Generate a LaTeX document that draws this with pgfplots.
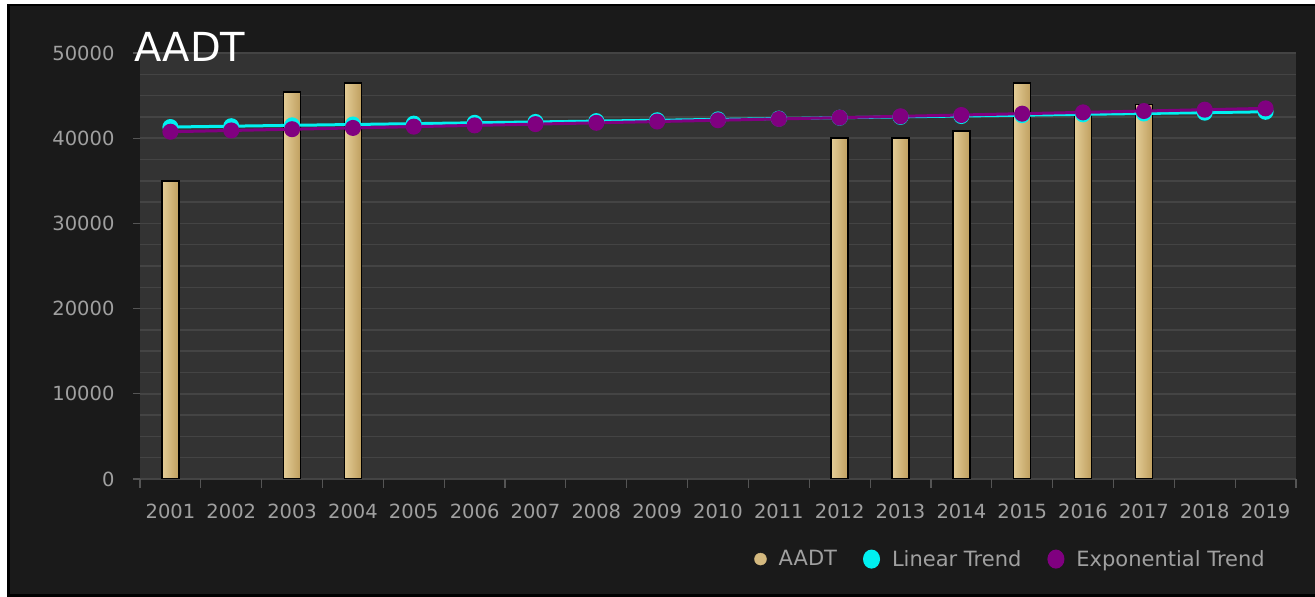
\documentclass[border=0pt]{standalone}
\usepackage{fontspec}
\setmainfont{DejaVu Sans}
\usepackage{pgfplots}
\pgfplotsset{compat=1.18}
\definecolor{outerbg}{HTML}{1A1A1A}
\definecolor{plotbg}{HTML}{333333}
\definecolor{gridc}{HTML}{444444}
\definecolor{tickgray}{HTML}{A0A0A0}
\definecolor{tickline}{HTML}{555555}
\definecolor{barlight}{HTML}{E3CC96}
\definecolor{bardark}{HTML}{BF9F5F}
\definecolor{bartan}{HTML}{D4B97F}
\definecolor{lincyan}{HTML}{00F0F0}
\definecolor{exppurple}{HTML}{800080}

\pgfplotstableread{
x y
0 41310
1 41409
2 41509
3 41608
4 41708
5 41807
6 41907
7 42006
8 42106
9 42205
10 42304
11 42404
12 42503
13 42603
14 42702
15 42802
16 42901
17 43000
18 43100
}\lintrend

\pgfplotstableread{
x y
0 40760
1 40908
2 41056
3 41205
4 41354
5 41504
6 41654
7 41805
8 41956
9 42108
10 42261
11 42414
12 42568
13 42722
14 42877
15 43032
16 43188
17 43344
18 43501
}\exptrend

\pgfplotsset{aadtbar/.style={ybar, bar width=17pt, draw=black, line width=1.5pt,
  left color=barlight, right color=bardark, forget plot}}

\begin{document}
\begin{tikzpicture}[x=1pt,y=1pt]
\fill[white] (0,0) rectangle (1315,597);
\fill[black] (7,0) rectangle (1315,593);
\fill[outerbg] (10,3) rectangle (1315,591);
\begin{axis}[
  at={(140pt,118pt)}, anchor=south west,
  scale only axis, width=1156pt, height=426pt,
  xmin=-0.5, xmax=18.5, ymin=0, ymax=50000,
  axis background/.style={fill=plotbg},
  axis line style={draw=none},
  xtick={0,...,18},
  xticklabels={2001,2002,2003,2004,2005,2006,2007,2008,2009,2010,2011,2012,2013,2014,2015,2016,2017,2018,2019},
  x tick style={draw=none},
  minor xtick={-0.5,0.5,...,18.5},
  minor x tick style={draw=tickline, line width=1.2pt},
  ytick={0,10000,...,50000},
  minor ytick={2500,5000,...,47500},
  minor y tick style={draw=none},
  y tick style={draw=tickline, line width=1.2pt},
  major tick length=7pt, minor tick length=9pt,
  tick align=outside, tick pos=left,
  ymajorgrids, yminorgrids,
  major grid style={draw=gridc, line width=1.5pt},
  minor grid style={draw=gridc, line width=1.5pt},
  scaled y ticks=false,
  /pgf/number format/1000 sep={},
  /pgf/number format/assume math mode=true,
  ticklabel style={text=tickgray, font=\fontsize{19.5}{23}\selectfont},
  yticklabel style={xshift=-15pt},
  xticklabel style={yshift=-14pt},
  legend columns=3,
  legend style={at={(0.9775,-0.188)}, anchor=east, draw=none, fill=none,
    text=tickgray, font=\fontsize{21}{25}\selectfont,
    /tikz/every odd column/.append style={column sep=10pt},
    /tikz/every even column/.append style={column sep=24pt}},
]
\addplot[aadtbar] coordinates {(0,35000)};
\addplot[aadtbar] coordinates {(2,45400)};
\addplot[aadtbar] coordinates {(3,46450)};
\addplot[aadtbar] coordinates {(11,40000)};
\addplot[aadtbar] coordinates {(12,40000)};
\addplot[aadtbar] coordinates {(13,40850)};
\addplot[aadtbar] coordinates {(14,46450)};
\addplot[aadtbar] coordinates {(15,42700)};
\addplot[aadtbar] coordinates {(16,43950)};
\addlegendimage{legend image code/.code={\fill[bartan] (0pt,0pt) circle (6pt);}}
\addlegendentry{AADT}
\addplot[lincyan, line width=3pt, mark=*, mark size=6.5pt,
  mark options={fill=lincyan, draw=lincyan},
  legend image code/.code={\fill[lincyan] (0pt,0pt) ellipse (7pt and 8pt);}]
  table[x=x,y=y]{\lintrend};
\addlegendentry{Linear Trend}
\addplot[exppurple, line width=3pt, mark=*, mark size=6.5pt,
  mark options={fill=exppurple, draw=exppurple},
  legend image code/.code={\fill[exppurple] (0pt,0pt) ellipse (7pt and 8pt);}]
  table[x=x,y=y]{\exptrend};
\addlegendentry{Exponential Trend}
\end{axis}
\node[anchor=base west, text=white, font=\fontsize{40}{48}\selectfont, inner sep=0pt] at (134pt,535pt) {AADT};
\end{tikzpicture}
\end{document}
